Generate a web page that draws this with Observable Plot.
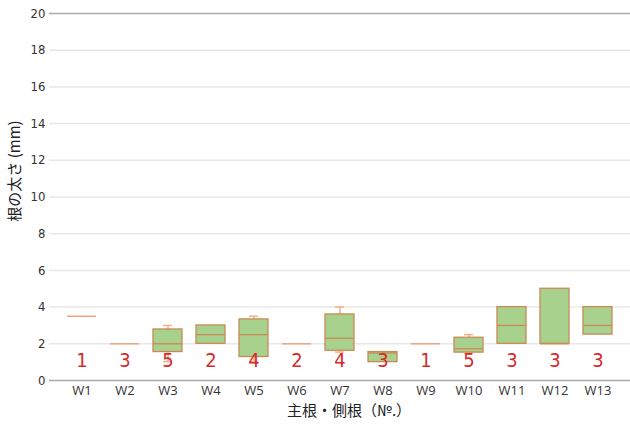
<!DOCTYPE html>
<html><head><meta charset="utf-8">
<script src="https://cdn.jsdelivr.net/npm/d3@7"></script>
<script src="https://cdn.jsdelivr.net/npm/@observablehq/plot@0.6"></script>
<style>
body{margin:0;background:#fff;}
#chart svg{display:block;}
</style>
</head><body><div id="chart"></div>
<script>
const categories = ["W1","W2","W3","W4","W5","W6","W7","W8","W9","W10","W11","W12","W13"];
const counts     = [1,3,5,2,4,2,4,3,1,5,3,3,3];
const q1         = [3.5,2.0,1.55,2.0,1.28,2.0,1.62,1.0,2.0,1.52,2.0,2.0,2.5];
const medians    = [3.5,2.0,2.0,2.5,2.5,2.0,2.3,1.5,2.0,1.73,3.0,2.0,3.0];
const q3         = [3.5,2.0,2.78,3.0,3.33,2.0,3.6,1.55,2.0,2.33,4.0,5.0,4.0];
const whiskerLow = [null,null,1.03,null,1.03,null,1.55,null,null,1.48,null,null,null];
const whiskerHigh= [null,null,3.0,null,3.5,null,4.0,null,null,2.5,null,null,null];
const yTicks = [0,2,4,6,8,10,12,14,16,18,20];

const rows = categories.map((c,i)=>({cat:c,n:counts[i],q1:q1[i],med:medians[i],q3:q3[i],lo:whiskerLow[i],hi:whiskerHigh[i]}));
const boxes = rows.filter(d=>d.q3>d.q1);
const singles = rows.filter(d=>d.q3===d.q1);
const whisk = rows.filter(d=>d.lo!=null);

const condensed = "'DejaVu Sans Condensed','Liberation Sans Narrow','Roboto',sans-serif";
const cjk = "'Noto Sans CJK JP','Noto Sans',sans-serif";

const chart = Plot.plot({
  width:630, height:426,
  marginLeft:49, marginRight:0, marginTop:13, marginBottom:46,
  style:{fontFamily:condensed, background:"#fff", color:"#333"},
  x:{type:"band", domain:categories, padding:0.33, label:null},
  y:{domain:[0,20], label:null},
  marks:[
    Plot.ruleY(yTicks.filter(t=>t>0&&t<20), {stroke:"#e8e8e8", strokeWidth:1.5}),
    Plot.ruleY([20], {stroke:"#aaa", strokeWidth:1.5}),
    Plot.ruleY([0], {stroke:"#aaa", strokeWidth:1.5}),
    Plot.ruleX([0], {x:()=>null, frameAnchor:"left", stroke:"#aaa", strokeWidth:1.5}),
    Plot.ruleX(whisk, {x:"cat", y1:"lo", y2:"hi", stroke:"#f0b08a", strokeWidth:1.5}),
    Plot.tickY(whisk, {x:"cat", y:"lo", stroke:"#f0b08a", strokeWidth:1.5, insetLeft:10, insetRight:10}),
    Plot.tickY(whisk, {x:"cat", y:"hi", stroke:"#f0b08a", strokeWidth:1.5, insetLeft:10, insetRight:10}),
    Plot.barY(boxes, {x:"cat", y1:"q1", y2:"q3", fill:"#a9d18e", stroke:"#c98a55", strokeWidth:1.3}),
    Plot.tickY(boxes, {x:"cat", y:"med", stroke:"#c98a55", strokeWidth:1.3}),
    Plot.tickY(singles, {x:"cat", y:"med", stroke:"#eea57c", strokeWidth:1.5}),
    Plot.text(rows, {x:"cat", text:d=>String(d.n), frameAnchor:"bottom", dy:-14, fill:"#d42a2a", fontSize:20, fontFamily:"'Liberation Sans Narrow','DejaVu Sans Condensed',sans-serif"}),
    Plot.axisY({ticks:yTicks, tickSize:0, tickPadding:4, fontSize:13, label:null}),
    Plot.axisX({tickSize:0, tickPadding:5, fontSize:13, fontFamily:"'Open Sans','Noto Sans',sans-serif", label:null}),
    Plot.text(["根の太さ (mm)"], {frameAnchor:"left", textAnchor:"middle", dx:-34, dy:-26, rotate:-90, fontSize:15, fontFamily:cjk, fill:"#222"}),
    Plot.text(["主根・側根（№.）"], {frameAnchor:"bottom", dy:35, dx:9, fontSize:15, fontFamily:cjk, fill:"#222"})
  ]
});
document.getElementById("chart").appendChild(chart);
</script></body></html>
